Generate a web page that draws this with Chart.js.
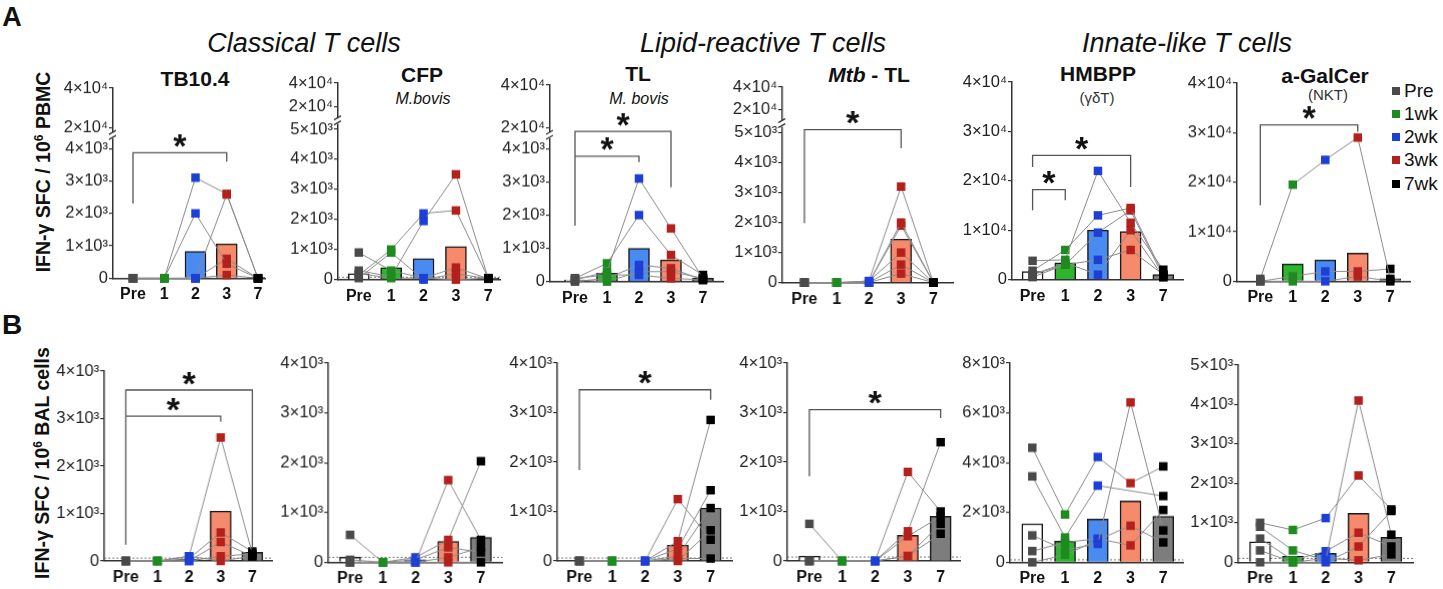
<!DOCTYPE html>
<html>
<head>
<meta charset="utf-8">
<script src="https://cdn.jsdelivr.net/npm/chart.js@4.4.1/dist/chart.umd.min.js"></script>
<style>
  body { margin: 0; background: #fff; width: 1443px; height: 589px; position: relative; overflow: hidden;
         font-family: 'Liberation Sans', Arial, sans-serif; color: #111; }
  .box { position: absolute; }
  .t { position: absolute; white-space: nowrap; transform: translate(-50%, -50%); line-height: normal; }
  .ytitle { position: absolute; white-space: nowrap; font-weight: bold; font-size: 19.5px;
            transform: translate(-50%, -50%) rotate(-90deg); }
  sup { font-size: 0.62em; vertical-align: 0.55em; line-height: 0; }
  .sq { position: absolute; width: 8px; height: 8px; }
</style>
</head>
<body>
<div class="t" style="left:12px;top:17px;font-weight:bold;font-size:27px">A</div>
<div class="t" style="left:12px;top:325px;font-weight:bold;font-size:28px">B</div>

<div class="t" style="left:304px;top:43px;font-style:italic;font-size:27px">Classical T cells</div>
<div class="t" style="left:763px;top:43px;font-style:italic;font-size:27px">Lipid-reactive T cells</div>
<div class="t" style="left:1187px;top:43px;font-style:italic;font-size:27px">Innate-like T cells</div>

<div class="ytitle" style="left:43px;top:172px">IFN-γ SFC / 10<sup>6</sup> PBMC</div>
<div class="ytitle" style="left:42px;top:463px">IFN-γ SFC / 10<sup>6</sup> BAL cells</div>

<div class="t" style="left:195px;top:79px;font-weight:bold;font-size:21px">TB10.4</div>
<div class="t" style="left:422px;top:75px;font-weight:bold;font-size:21px">CFP</div>
<div class="t" style="left:423px;top:99px;font-style:italic;font-size:16px">M.bovis</div>
<div class="t" style="left:638px;top:74px;font-weight:bold;font-size:21px">TL</div>
<div class="t" style="left:639px;top:99px;font-style:italic;font-size:16px">M. bovis</div>
<div class="t" style="left:869px;top:75px;font-weight:bold;font-size:21px"><i>Mtb</i> - TL</div>
<div class="t" style="left:1098px;top:74px;font-weight:bold;font-size:21px">HMBPP</div>
<div class="t" style="left:1097px;top:97px;font-size:15px;color:#333">(γδT)</div>
<div class="t" style="left:1325px;top:76px;font-weight:bold;font-size:21px">a-GalCer</div>
<div class="t" style="left:1328px;top:94px;font-size:15px;color:#333">(NKT)</div>

<div id="legend"></div>

<script>
// x categories (weeks after vaccination) and legend
const categories = ['Pre', '1', '2', '3', '7'];
const legendLabels = ['Pre', '1wk', '2wk', '3wk', '7wk'];
const pointColors = ['#4a4a4a', '#1f8a1f', '#1d3fd6', '#b3211d', '#000000'];
const barColors = ['#ffffff', '#2db52d', '#4a8bf2', '#f58a6d', '#7d7d7d'];

// ---- A: PBMC (one row per animal: Pre, 1, 2, 3, 7) ----
const tb104Animals = [
  [0, 0, 3100, 2600, 0],
  [0, 0, 2000, 450, 0],
  [0, 0, 0, 2580, 0],
  [0, 0, 0, 600, 0],
  [0, 0, 0, 100, 0]
];
const tb104Bars = [0, 0, 830, 1060, 30];
const tb104Ticks = [0, 1000, 2000, 3000, 4000, 4640, 5860];
const tb104TickLabels = ['0', '1×10³', '2×10³', '3×10³', '4×10³', '2×10⁴', '4×10⁴'];

const cfpAnimals = [
  [900, 300, 50, 400, 30],
  [300, 100, 1950, 3500, 30],
  [150, 1000, 2200, 2300, 50],
  [50, 900, 0, 200, 30],
  [200, 50, 50, 0, 50]
];
const cfpBars = [200, 400, 700, 1100, 50];
const cfpTicks = [0, 1000, 2000, 3000, 4000, 5000, 5755, 6536];
const cfpTickLabels = ['0', '1×10³', '2×10³', '3×10³', '4×10³', '5×10³', '2×10⁴', '4×10⁴'];

const tlAnimals = [
  [50, 300, 3100, 1600, 100],
  [100, 550, 2000, 800, 200],
  [0, 100, 500, 400, 50],
  [50, 0, 300, 300, 100],
  [100, 200, 200, 100, 50]
];
const tlBars = [50, 250, 1000, 650, 100];
const tlTicks = [0, 1000, 2000, 3000, 4000, 4634, 5910];
const tlTickLabels = ['0', '1×10³', '2×10³', '3×10³', '4×10³', '2×10⁴', '4×10⁴'];

const mtbTlAnimals = [
  [0, 0, 50, 3200, 0],
  [0, 0, 0, 2000, 0],
  [0, 0, 0, 1900, 0],
  [0, 0, 50, 1000, 0],
  [0, 0, 0, 600, 0],
  [0, 0, 0, 300, 0]
];
const mtbTlBars = [0, 0, 20, 1450, 0];
const mtbTlTicks = [0, 1000, 2000, 3000, 4000, 5000, 5777, 6520];
const mtbTlTickLabels = ['0', '1×10³', '2×10³', '3×10³', '4×10³', '5×10³', '2×10⁴', '4×10⁴'];

const hmbppAnimals = [
  [3800, 4000, 22000, 11500, 2000],
  [1800, 6000, 13000, 14500, 1000],
  [1000, 3000, 9500, 14000, 500],
  [500, 3000, 4000, 6000, 1000],
  [1000, 3400, 1000, 10000, 500]
];
const hmbppBars = [1600, 3400, 10000, 9700, 1000];

const galcerAnimals = [
  [500, 19500, 24500, 29000, 500],
  [0, 1000, 2000, 2000, 2500],
  [0, 0, 0, 1000, 0]
];
const galcerBars = [0, 3500, 4300, 5700, 500];
const ticks4e4 = [0, 10000, 20000, 30000, 40000];
const ticks4e4Labels = ['0', '1×10⁴', '2×10⁴', '3×10⁴', '4×10⁴'];

// ---- B: BAL cells ----
const balTb104Animals = [
  [0, 0, 100, 2600, 150],
  [0, 0, 50, 600, 200],
  [0, 0, 0, 400, 100],
  [0, 0, 0, 100, 150],
  [0, 0, 100, 0, 100]
];
const balTb104Bars = [0, 0, 40, 1050, 180];

const balCfpAnimals = [
  [550, 0, 0, 1650, 450],
  [50, 0, 100, 450, 2030],
  [0, 0, 50, 300, 200],
  [0, 0, 0, 100, 300],
  [0, 0, 0, 0, 0]
];
const balCfpBars = [100, 0, 50, 420, 500];

const balTlAnimals = [
  [0, 0, 0, 1250, 430],
  [0, 0, 0, 400, 2850],
  [0, 0, 0, 250, 1430],
  [0, 0, 0, 100, 1070],
  [0, 0, 0, 0, 620],
  [0, 0, 0, 50, 50]
];
const balTlBars = [0, 0, 0, 320, 1070];

const balMtbTlAnimals = [
  [750, 0, 0, 1800, 1000],
  [0, 0, 0, 600, 2400],
  [0, 0, 0, 500, 900],
  [0, 0, 0, 100, 750],
  [0, 0, 0, 100, 550]
];
const balMtbTlBars = [100, 0, 0, 520, 900];
const ticks4e3 = [0, 1000, 2000, 3000, 4000];
const ticks4e3Labels = ['0', '1×10³', '2×10³', '3×10³', '4×10³'];

const balHmbppAnimals = [
  [4600, 1920, 4230, 3180, 3850],
  [3450, 1000, 3080, null, 2660],
  [1080, 500, 740, 6420, 1280],
  [450, 800, 950, 680, 2100],
  [0, 300, 900, 1470, 800]
];
const balHmbppBars = [1550, 850, 1740, 2460, 1850];
const ticks8e3 = [0, 2000, 4000, 6000, 8000];
const ticks8e3Labels = ['0', '2×10³', '4×10³', '6×10³', '8×10³'];

const balGalcerAnimals = [
  [1000, 820, 1120, 2200, 1340],
  [900, 300, 50, 4100, 700],
  [600, 50, 280, 750, 400],
  [300, 0, 0, 400, 1300],
  [0, 0, 100, 50, 200]
];
const balGalcerBars = [520, 160, 230, 1240, 630];
const ticks5e3 = [0, 1000, 2000, 3000, 4000, 5000];
const ticks5e3Labels = ['0', '1×10³', '2×10³', '3×10³', '4×10³', '5×10³'];

// significance brackets: from/to category index, bar height and drop ends (data units)
const tb104Brackets = [{ a: 0, b: 3, y: 3870, la: 2300, lb: 3590 }];
const tlBrackets = [{ a: 0, b: 3, y: 4520, la: 1680, lb: 2840 }, { a: 0, b: 2, y: 3770, la: 3770, lb: 3590 }];
const mtbTlBrackets = [{ a: 0, b: 3, y: 5100, la: 1980, lb: 4480 }];
const hmbppBrackets = [{ a: 0, b: 3, y: 25160, la: 22800, lb: 18750 }, { a: 0, b: 1, y: 18220, la: 14030, lb: 16050 }];
const galcerBrackets = [{ a: 0, b: 3, y: 31550, la: 15340, lb: 30190 }];
const balTb104Brackets = [{ a: 0, b: 4, y: 3600, la: 340, lb: 270 }, { a: 0, b: 3, y: 3050, la: 3050, lb: 2930 }];
const balTlBrackets = [{ a: 0, b: 4, y: 3460, la: 1840, lb: 3260 }];
const balMtbTlBrackets = [{ a: 0, b: 4, y: 3060, la: 1710, lb: 2890 }];

// layout: y-axis x, axis end, Pre / 7 centres, pixel of 0 and of the top tick
const panels = [
  { ax: 113, ar: 265, pre: 133, p7: 258, y0: 277.7, yt: 88.3, ymax: 5860, ticks: tb104Ticks, labels: tb104TickLabels,
    animals: tb104Animals, bars: tb104Bars, brackets: tb104Brackets, breakAt: 4400, cutoff: null },
  { ax: 338, ar: 500, pre: 358.8, p7: 488.3, y0: 279, yt: 83.3, ymax: 6536, ticks: cfpTicks, labels: cfpTickLabels,
    animals: cfpAnimals, bars: cfpBars, brackets: [], breakAt: 5280, cutoff: 80 },
  { ax: 550, ar: 723, pre: 575, p7: 703, y0: 280.7, yt: 85, ymax: 5910, ticks: tlTicks, labels: tlTickLabels,
    animals: tlAnimals, bars: tlBars, brackets: tlBrackets, breakAt: 4400, cutoff: null },
  { ax: 782.3, ar: 953, pre: 804.3, p7: 932.7, y0: 282.3, yt: 86.7, ymax: 6520, ticks: mtbTlTicks, labels: mtbTlTickLabels,
    animals: mtbTlAnimals, bars: mtbTlBars, brackets: mtbTlBrackets, breakAt: 5300, cutoff: null },
  { ax: 1011.7, ar: 1183, pre: 1032.3, p7: 1163, y0: 279.3, yt: 81.7, ymax: 40000, ticks: ticks4e4, labels: ticks4e4Labels,
    animals: hmbppAnimals, bars: hmbppBars, brackets: hmbppBrackets, breakAt: null, cutoff: null },
  { ax: 1236.7, ar: 1410, pre: 1260, p7: 1390, y0: 280.7, yt: 83.3, ymax: 40000, ticks: ticks4e4, labels: ticks4e4Labels,
    animals: galcerAnimals, bars: galcerBars, brackets: galcerBrackets, breakAt: null, cutoff: null },
  { ax: 104.3, ar: 271.7, pre: 125.7, p7: 251.7, y0: 561, yt: 371, ymax: 4000, ticks: ticks4e3, labels: ticks4e3Labels,
    animals: balTb104Animals, bars: balTb104Bars, brackets: balTb104Brackets, breakAt: null, cutoff: 60 },
  { ax: 328.3, ar: 501.7, pre: 350, p7: 480.3, y0: 561.7, yt: 363.3, ymax: 4000, ticks: ticks4e3, labels: ticks4e3Labels,
    animals: balCfpAnimals, bars: balCfpBars, brackets: [], breakAt: null, cutoff: 100 },
  { ax: 557.3, ar: 731.7, pre: 579.3, p7: 710, y0: 561.3, yt: 363.3, ymax: 4000, ticks: ticks4e3, labels: ticks4e3Labels,
    animals: balTlAnimals, bars: balTlBars, brackets: balTlBrackets, breakAt: null, cutoff: 60 },
  { ax: 787.3, ar: 960, pre: 809.3, p7: 940, y0: 561.3, yt: 363.3, ymax: 4000, ticks: ticks4e3, labels: ticks4e3Labels,
    animals: balMtbTlAnimals, bars: balMtbTlBars, brackets: balMtbTlBrackets, breakAt: null, cutoff: 80 },
  { ax: 1010, ar: 1183.3, pre: 1032.3, p7: 1163.3, y0: 561.7, yt: 363.3, ymax: 8000, ticks: ticks8e3, labels: ticks8e3Labels,
    animals: balHmbppAnimals, bars: balHmbppBars, brackets: [], breakAt: null, cutoff: 100 },
  { ax: 1238.3, ar: 1412.7, pre: 1260, p7: 1390.7, y0: 562.3, yt: 365, ymax: 5000, ticks: ticks5e3, labels: ticks5e3Labels,
    animals: balGalcerAnimals, bars: balGalcerBars, brackets: [], breakAt: null, cutoff: 100 }
];

const FONT = "'Liberation Sans', Arial, sans-serif";
const Wy = 72, padTop = 12, padRight = 6, Hx = 30;

// extra drawing: cutoff line, brackets with stars, axis break
function decor(p) {
  return {
    id: 'decor',
    beforeDatasetsDraw(chart) {
      if (p.cutoff == null) return;
      const { ctx, chartArea: a, scales: { y } } = chart;
      const yy = y.getPixelForValue(p.cutoff);
      ctx.save();
      ctx.setLineDash([2, 2]);
      ctx.strokeStyle = '#777';
      ctx.lineWidth = 1;
      ctx.beginPath(); ctx.moveTo(a.left, yy); ctx.lineTo(a.right, yy); ctx.stroke();
      ctx.restore();
    },
    afterDraw(chart) {
      const { ctx, chartArea: a, scales: { x, y } } = chart;
      ctx.save();
      ctx.strokeStyle = '#555';
      ctx.lineWidth = 1.3;
      p.brackets.forEach(b => {
        const xa = x.getPixelForValue(b.a), xb = x.getPixelForValue(b.b), yb = y.getPixelForValue(b.y);
        ctx.beginPath();
        ctx.moveTo(xa, y.getPixelForValue(b.la));
        ctx.lineTo(xa, yb); ctx.lineTo(xb, yb);
        ctx.lineTo(xb, y.getPixelForValue(b.lb));
        ctx.stroke();
        ctx.font = 'bold 34px ' + FONT;
        ctx.fillStyle = '#111';
        ctx.textAlign = 'center';
        ctx.textBaseline = 'alphabetic';
        const m = ctx.measureText('*');
        const yc = yb - 12;
        ctx.fillText('*', (xa + xb) / 2, yc - (m.actualBoundingBoxDescent - m.actualBoundingBoxAscent) / 2);
      });
      if (p.breakAt != null) {
        const yy = y.getPixelForValue(p.breakAt), xl = a.left;
        ctx.fillStyle = '#fff';
        ctx.fillRect(xl - 3, yy - 3, 6, 6);
        ctx.strokeStyle = '#333';
        ctx.lineWidth = 1.3;
        ctx.beginPath();
        ctx.moveTo(xl - 4, yy - 1); ctx.lineTo(xl + 3, yy - 5);
        ctx.moveTo(xl - 4, yy + 4); ctx.lineTo(xl + 3, yy);
        ctx.stroke();
      }
      ctx.restore();
    }
  };
}

panels.forEach(p => {
  const sp = (p.p7 - p.pre) / 4;
  const xmin = -(p.pre - p.ax) / sp;
  const xmax = 4 + (p.ar - p.p7) / sp;
  const w = Wy + (p.ar - p.ax) + padRight;
  const h = padTop + (p.y0 - p.yt) + Hx;

  const box = document.createElement('div');
  box.className = 'box';
  box.style.left = (p.ax - Wy) + 'px';
  box.style.top = (p.yt - padTop) + 'px';
  box.style.width = w + 'px';
  box.style.height = h + 'px';
  const cv = document.createElement('canvas');
  box.appendChild(cv);
  document.body.appendChild(box);

  const datasets = [{
    type: 'bar',
    data: p.bars.map((v, i) => ({ x: i, y: v })),
    backgroundColor: barColors,
    borderColor: '#1a1a1a',
    borderWidth: 1.5,
    barThickness: 21,
    order: 10
  }];
  p.animals.forEach(row => {
    datasets.push({
      type: 'line',
      data: row.map((v, i) => ({ x: i, y: v })),
      borderColor: '#8a8a8a',
      borderWidth: 1,
      pointStyle: 'rect',
      pointRadius: 6,
      pointBackgroundColor: pointColors,
      pointBorderColor: pointColors,
      pointBorderWidth: 0,
      spanGaps: true,
      clip: false,
      order: 1
    });
  });

  new Chart(cv, {
    type: 'bar',
    data: { datasets },
    options: {
      responsive: true,
      maintainAspectRatio: false,
      animation: false,
      layout: { padding: { top: padTop, right: padRight, left: 0, bottom: 0 } },
      plugins: { legend: { display: false }, tooltip: { enabled: false } },
      scales: {
        x: {
          type: 'linear', min: xmin, max: xmax, offset: false,
          afterBuildTicks: s => { s.ticks = categories.map((c, i) => ({ value: i })); },
          afterFit: s => { s.height = Hx; },
          ticks: {
            callback: v => categories[v] ?? '',
            font: { family: FONT, size: 16, weight: 'bold' }, color: '#111',
            padding: 7, autoSkip: false, maxRotation: 0
          },
          grid: { display: false, drawTicks: false },
          border: { display: true, color: '#333', width: 1.5 }
        },
        y: {
          type: 'linear', min: 0, max: p.ymax,
          afterBuildTicks: s => { s.ticks = p.ticks.map(v => ({ value: v })); },
          afterFit: s => { s.width = Wy; },
          ticks: {
            callback: (v, i) => p.labels[i],
            font: { family: FONT, size: 16.5 }, color: '#222',
            padding: 1, autoSkip: false
          },
          grid: { drawOnChartArea: false, drawTicks: true, tickLength: 4, color: '#333', lineWidth: 1.2 },
          border: { display: true, color: '#333', width: 1.5 }
        }
      }
    },
    plugins: [decor(p)]
  });
});

// legend (top right)
const leg = document.getElementById('legend');
legendLabels.forEach((lab, i) => {
  const yc = 90.7 + i * 23.2;
  const sq = document.createElement('div');
  sq.className = 'sq';
  sq.style.left = '1392px';
  sq.style.top = (yc - 4) + 'px';
  sq.style.background = pointColors[i];
  leg.appendChild(sq);
  const tx = document.createElement('div');
  tx.className = 't';
  tx.style.transform = 'translate(0, -50%)';
  tx.style.left = '1404px';
  tx.style.top = yc + 'px';
  tx.style.fontSize = '19px';
  tx.textContent = lab;
  leg.appendChild(tx);
});
</script>
</body>
</html>
